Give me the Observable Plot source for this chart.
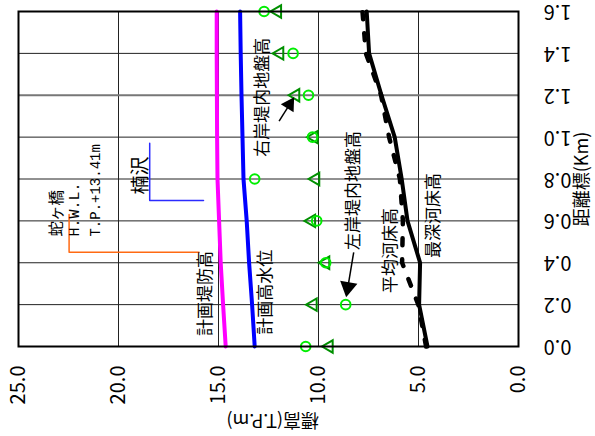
<!DOCTYPE html>
<html>
<head>
<meta charset="utf-8">
<script src="https://cdn.jsdelivr.net/npm/d3@7"></script>
<script src="https://cdn.jsdelivr.net/npm/@observablehq/plot@0.6"></script>
<style>
  html, body { margin: 0; padding: 0; background: white; }
</style>
</head>
<body>
<div id="chart"></div>
<script>
// Distance markers (km) along the river
const distances = [0.0, 0.2, 0.4, 0.6, 0.8, 1.0, 1.2, 1.4, 1.6];
// Elevations (T.P. m)
const leveeHeight  = [14.64, 14.77, 14.89, 14.97, 15.05, 15.07, 15.08, 15.09, 15.09]; // 計画堤防高
const designWater  = [13.19, 13.32, 13.47, 13.59, 13.75, 13.80, 13.85, 13.89, 13.92]; // 計画高水位
const deepestBed   = [4.55, 4.97, 4.92, 5.55, 5.84, 6.19, 6.85, 7.47, 7.59];          // 最深河床高
const averageBed   = [4.62, 5.01, 5.82, 5.78, 5.93, 6.47, 6.87, 7.63, 7.80];          // 平均河床高
const leftBank     = [10.64, 8.64, 9.64, 10.09, 13.19, 10.30, 10.50, 11.27, 12.72];   // 左岸堤内地盤高 (○)
const rightBank    = [9.47, 10.27, 9.64, 10.35, 10.14, 10.22, 11.14, 11.94, 12.05];   // 右岸堤内地盤高 (△)

// Axis ticks
const xTickValues = [25, 20, 15, 10, 5, 0];
const xTickLabels = ["25.0", "20.0", "15.0", "10.0", "5.0", "0.0"];
const yTickValues = [0, 0.2, 0.4, 0.6, 0.8, 1.0, 1.2, 1.4, 1.6];
const yTickLabels = ["0.0", "0.2", "0.4", "0.6", "0.8", "1.0", "1.2", "1.4", "1.6"];
const xGrid = [5, 10, 15, 20];
const yGrid = [0.2, 0.4, 0.6, 0.8, 1.0, 1.4];
const yGridGray = [1.2];

// Annotation markers (elevation, distance)
const hebigahashiMarker = [[22.47, 0.63], [22.47, 0.45], [15.97, 0.45]];
const kusuzawaMarker = [[18.44, 0.971], [18.44, 0.697], [15.75, 0.697]];
const rightArrow = {e1: 11.97, d1: 1.076, e2: 11.22, d2: 1.19, eh: 11.45, dh: 1.155};
const leftArrow = {e1: 8.24, d1: 0.45, e2: 8.61, d2: 0.235, eh: 8.53, dh: 0.283};

const leftTri = {
  draw(ctx, size) {
    const y = -Math.sqrt(size / (Math.sqrt(3) * 3));
    ctx.moveTo(y * 2, 0);
    ctx.lineTo(-y, -Math.sqrt(3) * y);
    ctx.lineTo(-y, Math.sqrt(3) * y);
    ctx.closePath();
  }
};

const mono = '"Liberation Mono", monospace';

const chart = Plot.plot({
  width: 595,
  height: 436,
  marginLeft: 18,
  marginRight: 77,
  marginTop: 11,
  marginBottom: 90,
  x: {domain: [25, 0], axis: null},
  y: {domain: [0, 1.6], axis: null},
  style: {fontFamily: '"Noto Sans CJK JP", sans-serif', fontSize: "16px", background: "white", color: "black"},
  marks: [
    Plot.ruleX(xGrid, {stroke: "#222", strokeWidth: 1}),
    Plot.ruleY(yGrid, {stroke: "#222", strokeWidth: 1}),
    Plot.ruleY(yGridGray, {stroke: "#777", strokeWidth: 2}),
    // annotation markers
    Plot.line(hebigahashiMarker, {x: d => d[0], y: d => d[1], stroke: "#ff6a13", strokeWidth: 1.5}),
    Plot.line(kusuzawaMarker, {x: d => d[0], y: d => d[1], stroke: "#2b2bff", strokeWidth: 1.5}),
    // lines
    Plot.line(distances, {x: (d, i) => leveeHeight[i], y: d => d, stroke: "#ff00ff", strokeWidth: 4}),
    Plot.line(distances, {x: (d, i) => designWater[i], y: d => d, stroke: "#0000ff", strokeWidth: 4}),
    Plot.line(distances, {x: (d, i) => deepestBed[i], y: d => d, stroke: "black", strokeWidth: 4}),
    Plot.line(distances, {x: (d, i) => averageBed[i], y: d => d, stroke: "black", strokeWidth: 4.5, strokeDasharray: "7,14"}),
    // markers
    Plot.dot(distances, {x: (d, i) => rightBank[i], y: d => d, symbol: leftTri, r: 4.6, stroke: "#009000", strokeWidth: 2, fill: "none"}),
    Plot.dot(distances, {x: (d, i) => leftBank[i], y: d => d, symbol: "circle", r: 4.8, stroke: "#00ee00", strokeWidth: 2, fill: "none"}),
    // arrows
    Plot.link([rightArrow, leftArrow], {x1: "e1", y1: "d1", x2: "eh", y2: "dh", stroke: "black", strokeWidth: 1.5}),
    Plot.dot([rightArrow], {x: "eh", y: "dh", symbol: "triangle", r: 5.6, rotate: 32, fill: "black"}),
    Plot.dot([leftArrow], {x: "eh", y: "dh", symbol: "triangle", r: 6.5, rotate: 190, fill: "black"}),
    // labels
    Plot.text(["計画堤防高"], {x: 15.64, y: 0.253, text: d => d, rotate: -90, fontSize: 17, lineAnchor: "middle"}),
    Plot.text(["計画高水位"], {x: 12.64, y: 0.259, text: d => d, rotate: -90, fontSize: 17, lineAnchor: "middle"}),
    Plot.text(["右岸堤内地盤高"], {x: 12.8, y: 1.19, text: d => d, rotate: -90, fontSize: 17, lineAnchor: "middle"}),
    Plot.text(["左岸堤内地盤高"], {x: 8.24, y: 0.745, text: d => d, rotate: -90, fontSize: 17, lineAnchor: "middle"}),
    Plot.text(["平均河床高"], {x: 6.39, y: 0.458, text: d => d, rotate: -90, fontSize: 17, lineAnchor: "middle"}),
    Plot.text(["最深河床高"], {x: 4.24, y: 0.626, text: d => d, rotate: -90, fontSize: 17, lineAnchor: "middle"}),
    Plot.text(["楠沢"], {x: 18.89, y: 0.817, text: d => d, rotate: -90, fontSize: 19, lineAnchor: "middle"}),
    Plot.text(["蛇ヶ橋"], {x: 23.05, y: 0.525, text: d => d, rotate: -90, fontSize: 15.5, textAnchor: "start", lineAnchor: "middle"}),
    Plot.text(["H.W.L."], {x: 22.22, y: 0.525, text: d => d, rotate: -90, fontSize: 15, fontFamily: mono, textAnchor: "start", lineAnchor: "middle"}),
    Plot.text(["T.P.+13.41m"], {x: 21.14, y: 0.525, text: d => d, rotate: -90, fontSize: 14, fontFamily: mono, textAnchor: "start", lineAnchor: "middle"}),
    // tick labels
    Plot.text(xTickValues, {x: d => d, y: 0, dy: 19, text: (d, i) => xTickLabels[i], rotate: -90, textAnchor: "end", lineAnchor: "middle", fontSize: 20}),
    Plot.text(yTickValues, {x: 0, y: d => d, dx: 39, text: (d, i) => yTickLabels[i], rotate: 180, textAnchor: "middle", lineAnchor: "middle", fontSize: 20}),
    // axis titles
    Plot.text(["標高(T.P.m)"], {x: 12.29, y: 0, dy: 73, text: d => d, rotate: 180, textAnchor: "middle", lineAnchor: "middle", fontSize: 18}),
    Plot.text(["距離標(Km)"], {x: 0, y: 0.8, dx: 64, text: d => d, rotate: -90, textAnchor: "middle", lineAnchor: "middle", fontSize: 18}),
    Plot.frame({stroke: "black", strokeWidth: 2})
  ]
});
document.getElementById("chart").appendChild(chart);
</script>
</body>
</html>
